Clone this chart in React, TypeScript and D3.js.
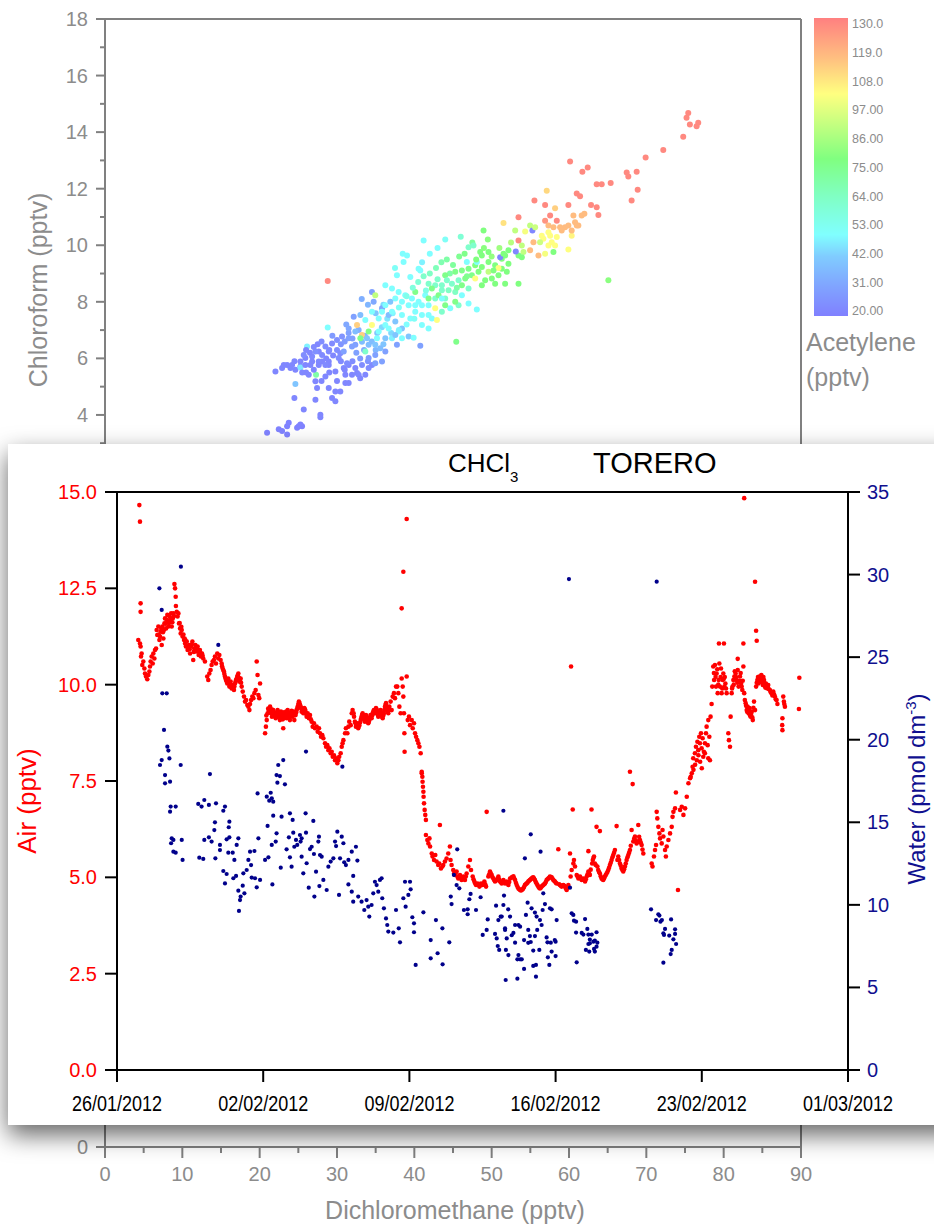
import React from "react";
import * as d3 from "d3";

// ---------------- Back chart (Chloroform vs Dichloromethane, coloured by Acetylene) -------------
const dcmTicks = [0, 10, 20, 30, 40, 50, 60, 70, 80, 90];
const dcmMinorTicks = [5, 15, 25, 35, 45, 55, 65, 75, 85];
const chloroTicks = [0, 2, 4, 6, 8, 10, 12, 14, 16, 18];
const chloroMinorTicks = [1, 3, 5, 7, 9, 11, 13, 15, 17];
const acetyleneTicks = [130, 119, 108, 97, 86, 75, 64, 53, 42, 31, 20];
const acetyleneStops = [20, 31, 42, 50, 64, 78, 90, 102, 115, 130];
const acetyleneColors = ["#8080ff", "#80a4ff", "#80ccff", "#80ffff", "#80ffc4", "#80ff80", "#c0ff80", "#ffff80", "#ffc080", "#ff8080"];

// [dichloromethane pptv, chloroform pptv, acetylene pptv]
const scatterPoints: [number, number, number][] = [
  // purple / blue low end
  [22.04, 5.54, 22], [22.9, 5.66, 22], [23.55, 5.77, 22], [24.19, 5.77, 22], [24.62, 5.6, 22], [25.27, 5.71, 23],
  [25.91, 6.01, 22], [26.78, 6.07, 23], [27.64, 6.24, 22], [28.5, 6.42, 24], [29.36, 6.53, 23], [30.0, 6.65, 25],
  [30.65, 6.77, 26], [28.07, 5.89, 22], [28.93, 5.77, 22], [29.79, 5.54, 22], [30.87, 5.66, 23], [31.51, 5.77, 22],
  [31.94, 5.42, 22], [32.59, 5.48, 22], [33.23, 5.77, 24], [33.66, 5.42, 22], [34.52, 5.77, 23], [26.35, 5.42, 22],
  [27.21, 5.19, 22], [27.42, 4.95, 22], [28.5, 5.36, 22], [28.93, 4.95, 22], [29.79, 4.83, 22], [30.43, 4.83, 22],
  [29.36, 4.6, 22], [29.79, 4.48, 22], [31.08, 5.13, 22], [31.51, 5.13, 22], [31.3, 5.83, 24], [27.64, 5.89, 23],
  [26.56, 5.77, 22], [25.7, 6.12, 24], [25.27, 5.89, 22], [28.93, 6.24, 23], [27.21, 6.24, 25], [30.22, 6.01, 24],
  [24.62, 5.09, 40], [24.49, 4.6, 22], [27.21, 4.54, 22], [25.7, 4.19, 22], [27.85, 4.01, 22], [27.85, 3.92, 22],
  [20.96, 3.37, 21], [22.47, 3.49, 21], [22.9, 3.43, 21], [23.55, 3.6, 21], [23.76, 3.72, 21], [23.55, 3.31, 21],
  [24.84, 3.55, 21], [25.05, 3.6, 21], [25.48, 3.6, 21], [25.27, 3.66, 21], [26.13, 6.42, 48], [27.29, 5.42, 70],
  [25.27, 5.68, 46], [26.78, 5.89, 22], [28.07, 6.12, 23], [30.43, 6.18, 24], [30.87, 6.24, 30], [31.94, 6.42, 30],
  [28.93, 5.89, 22], [28.5, 5.77, 23], [27.64, 5.77, 22], [25.91, 5.77, 22], [23.98, 5.66, 22], [23.12, 5.77, 22],
  [31.08, 5.42, 22], [32.8, 5.42, 23], [34.09, 5.66, 24], [32.37, 5.66, 22],
  [26.0, 6.3, 22], [26.5, 6.2, 22], [27.0, 6.4, 23], [27.5, 6.5, 22], [28.0, 6.6, 24], [28.6, 6.0, 22], [29.0, 6.3, 23],
  [29.5, 6.1, 22], [30.0, 6.3, 24], [30.5, 6.5, 26], [31.0, 6.6, 28], [31.5, 6.9, 30], [32.0, 6.7, 30], [32.5, 6.2, 30],
  [33.0, 6.0, 28], [33.5, 6.3, 32], [34.0, 5.9, 26], [29.0, 5.5, 22], [30.0, 5.2, 22], [31.0, 5.6, 22], [32.0, 5.9, 24],
  [33.0, 5.3, 22], [26.0, 5.5, 22], [27.0, 5.6, 22], [24.5, 5.9, 22], [25.5, 5.5, 22], [28.0, 5.2, 22], [30.5, 5.9, 23],
  [29.4, 6.8, 28], [31.2, 7.2, 32], [32.8, 7.0, 34], [33.6, 6.8, 36], [34.5, 6.6, 38], [35.2, 6.9, 40], [35.8, 7.1, 44],
  [36.5, 7.4, 46], [37.2, 7.6, 48], [36.0, 7.9, 44], [35.0, 7.6, 40], [34.0, 7.9, 36], [33.2, 8.1, 34],
  [37.0, 6.9, 44], [36.0, 6.5, 40], [35.0, 6.3, 36],
  // blue / light blue
  [34.52, 8.35, 30], [34.74, 8.0, 32], [34.95, 8.23, 90], [35.82, 7.77, 32], [36.68, 7.53, 38], [37.54, 7.3, 40],
  [38.4, 7.06, 40], [39.26, 6.77, 40], [37.75, 6.48, 30], [36.25, 6.24, 30], [34.95, 6.12, 30], [34.09, 6.01, 28],
  [33.23, 6.59, 38], [32.37, 6.95, 38], [31.51, 7.06, 32], [32.16, 7.47, 30], [33.02, 7.53, 38], [33.66, 7.36, 50],
  [34.52, 7.18, 102], [35.39, 6.95, 50], [36.25, 6.71, 40], [37.11, 6.71, 48], [37.97, 6.95, 50], [34.09, 6.48, 38],
  [34.95, 6.48, 40], [33.23, 6.83, 112], [32.59, 7.18, 112], [33.02, 6.71, 76], [34.09, 6.95, 76], [35.39, 7.41, 50],
  [36.68, 7.06, 50], [34.52, 7.65, 50], [33.66, 6.24, 62], [34.95, 5.83, 30], [35.82, 5.89, 30], [35.6, 6.36, 38],
  [37.54, 6.83, 40], [38.4, 6.71, 50], [36.25, 7.18, 50], [35.17, 6.71, 50], [32.37, 6.48, 30], [31.51, 6.71, 30],
  [33.88, 6.71, 40],
  // cyan band
  [41.84, 8.64, 62], [42.7, 8.59, 62], [43.56, 8.41, 62], [44.43, 8.41, 64], [45.29, 8.35, 64], [46.15, 8.23, 50],
  [47.01, 7.94, 50], [48.08, 7.73, 50], [45.72, 7.88, 62], [44.64, 7.77, 50], [43.56, 7.65, 62], [42.27, 7.41, 50],
  [40.98, 7.53, 50], [40.12, 7.65, 50], [39.26, 7.88, 50], [38.4, 8.0, 50], [37.54, 8.12, 50], [40.12, 8.35, 76],
  [41.41, 8.23, 50], [42.7, 8.12, 62], [43.99, 8.12, 62], [45.29, 8.0, 76], [41.84, 7.88, 50], [40.55, 8.0, 50],
  [39.69, 8.12, 50], [38.83, 8.23, 50], [37.97, 8.35, 50], [36.89, 8.0, 40], [36.25, 7.88, 50], [35.82, 7.65, 50],
  [37.11, 7.65, 50], [38.4, 7.53, 50], [39.48, 7.41, 50], [40.98, 7.18, 50], [41.84, 7.06, 50], [42.92, 7.36, 102],
  [36.25, 8.59, 50], [37.11, 8.47, 50], [37.75, 8.94, 50], [38.61, 9.41, 50], [39.05, 9.64, 50], [41.2, 10.17, 50],
  [39.48, 8.88, 50], [40.55, 9.17, 50], [40.77, 9.11, 50], [41.84, 8.12, 76], [42.7, 7.77, 102], [42.27, 8.47, 76],
  [43.13, 8.23, 76], [43.99, 7.88, 76], [40.12, 7.88, 50], [40.98, 7.88, 50], [41.84, 7.53, 50], [43.56, 8.12, 50],
  [45.42, 6.59, 76], [28.8, 8.74, 128], [28.8, 7.09, 50], [39.91, 6.73, 50], [40.77, 6.45, 30],
  [38.0, 7.8, 52], [39.0, 8.2, 55], [39.8, 8.5, 58], [40.5, 8.7, 60], [41.2, 8.9, 62], [42.0, 9.0, 64], [42.8, 9.2, 66],
  [43.5, 9.4, 68], [44.2, 9.5, 70], [45.0, 9.3, 72], [45.8, 9.6, 74], [46.5, 9.7, 76], [44.6, 9.0, 70], [43.0, 8.8, 62],
  [41.5, 8.4, 56], [40.0, 7.4, 52], [39.0, 7.2, 50], [38.0, 7.0, 48], [45.5, 8.5, 70], [46.8, 8.9, 74],
  [46.0, 10.3, 60], [44.0, 10.2, 52], [43.0, 9.9, 50], [42.0, 9.7, 50], [41.0, 9.4, 48], [38.5, 9.7, 50], [37.5, 9.2, 52],
  // green band
  [43.99, 8.94, 76], [45.29, 9.06, 76], [46.15, 9.11, 76], [47.01, 9.17, 76], [47.87, 9.29, 78], [48.73, 9.23, 78],
  [49.59, 9.41, 78], [50.45, 9.29, 78], [51.31, 9.52, 78], [51.74, 9.64, 78], [52.17, 9.35, 78], [51.96, 9.06, 78],
  [50.88, 8.94, 78], [50.02, 8.82, 78], [49.16, 8.76, 78], [48.3, 9.06, 78], [47.44, 8.94, 76], [46.58, 8.82, 76],
  [45.72, 8.76, 62], [44.86, 8.64, 62], [50.45, 8.64, 78], [51.74, 8.64, 78], [53.47, 8.64, 78], [51.31, 9.17, 78],
  [48.73, 9.64, 78], [46.79, 9.41, 50], [48.08, 9.41, 50], [51.1, 9.58, 22], [50.88, 9.2, 102], [47.87, 8.82, 102],
  [46.15, 8.59, 76], [47.01, 8.47, 62], [48.73, 8.59, 78], [49.59, 9.06, 90], [50.24, 9.11, 78], [44.21, 8.76, 62],
  [43.56, 8.59, 62], [48.0, 9.5, 78], [49.0, 9.9, 80], [50.0, 9.6, 82], [51.0, 9.9, 84], [52.5, 10.1, 88],
  [49.5, 10.2, 80], [47.5, 10.1, 72],
  // upper green / yellow
  [48.95, 10.52, 78], [47.01, 9.93, 62], [47.65, 9.99, 62], [48.52, 9.76, 78], [49.59, 9.76, 78], [51.53, 9.7, 78],
  [52.17, 9.82, 78], [53.9, 9.99, 90], [54.11, 9.76, 90], [53.47, 9.64, 78], [53.9, 9.58, 78],
  [51.53, 10.79, 108], [53.04, 10.52, 90], [54.33, 10.49, 100], [54.97, 10.7, 90], [55.27, 10.52, 22], [55.62, 10.64, 92],
  [53.47, 10.17, 128], [53.12, 9.78, 22], [57.99, 9.76, 78], [65.09, 8.76, 80],
  [55.4, 10.11, 116], [54.97, 9.82, 116], [56.05, 9.64, 116],
  [57.34, 10.46, 102], [58.42, 10.29, 102], [56.48, 10.34, 102], [56.69, 10.23, 102], [56.26, 10.11, 92],
  [57.77, 10.11, 102], [57.34, 9.99, 102], [58.2, 9.99, 102], [59.92, 9.85, 102], [56.91, 9.7, 100], [57.56, 10.34, 102],
  [60.35, 10.34, 104],
  // orange
  [57.12, 11.93, 110], [58.2, 11.31, 112], [60.57, 11.05, 116], [61.64, 11.05, 116], [61.99, 11.11, 116],
  [60.78, 10.81, 116], [61.21, 10.7, 116], [59.92, 10.7, 116], [59.49, 10.64, 116], [58.85, 10.64, 116],
  [60.35, 10.52, 116], [59.06, 10.52, 116], [61.0, 10.7, 116], [57.34, 10.7, 116], [57.99, 10.64, 116],
  // red
  [57.56, 11.05, 128], [56.91, 10.87, 125], [58.42, 10.87, 128],
  [75.42, 14.68, 128], [75.2, 14.51, 128], [75.63, 14.27, 128], [76.71, 14.33, 128], [76.5, 14.21, 128],
  [74.77, 13.84, 128], [72.19, 13.37, 128], [69.91, 13.1, 128], [60.14, 12.96, 128], [62.42, 12.75, 128],
  [61.73, 12.6, 128], [67.46, 12.57, 128], [67.67, 12.43, 128], [68.75, 12.6, 128], [63.58, 12.16, 128],
  [64.23, 12.16, 128], [65.39, 12.2, 128], [68.88, 11.96, 128], [68.1, 11.58, 128], [61.0, 11.83, 128],
  [61.43, 11.73, 128], [59.92, 11.42, 128], [56.91, 11.42, 128], [55.53, 11.58, 128], [62.85, 11.42, 128],
  [63.58, 11.34, 128], [63.8, 11.07, 128], [53.47, 10.99, 128],
];

// ---------------- Front chart (CHCl3, TORERO) -------------
const startDate = "2012-01-26";
const endDate = "2012-03-01";
const dateTicks = ["2012-01-26", "2012-02-02", "2012-02-09", "2012-02-16", "2012-02-23", "2012-03-01"];
const airTicks = [0, 2.5, 5, 7.5, 10, 12.5, 15];
const waterTicks = [0, 5, 10, 15, 20, 25, 30, 35];

// [days since 26/01/2012, pptv]
const airSeries: [number, number][] = [
  [1.07, 14.66], [1.10, 14.23], [1.13, 12.11], [1.13, 11.89], [1.02, 11.16], [1.10, 11.07], [1.13, 10.99], [1.18, 10.81],
  [1.15, 10.73], [1.21, 10.51], [1.26, 10.60], [1.31, 10.42], [1.34, 10.29], [1.39, 10.21], [1.45, 10.14], [1.50, 10.25],
  [1.55, 10.34], [1.58, 10.47], [1.61, 10.60], [1.66, 10.73], [1.71, 10.55], [1.74, 10.81], [1.79, 10.68], [1.82, 10.90],
  [1.87, 10.94], [1.90, 11.42], [1.93, 11.29], [1.98, 11.51], [2.03, 11.16], [2.06, 11.25], [2.09, 11.38], [2.14, 11.03],
  [2.17, 11.51], [2.22, 11.20], [2.27, 11.59], [2.30, 11.72], [2.35, 11.46], [2.38, 11.68], [2.41, 11.81], [2.46, 11.51],
  [2.51, 11.77], [2.54, 11.64], [2.59, 11.85], [2.62, 11.51], [2.67, 11.72], [2.70, 11.85], [2.75, 12.61], [2.78, 12.50],
  [2.81, 12.28], [2.82, 12.04], [2.86, 11.89], [2.90, 11.77], [2.94, 11.85], [2.97, 11.59], [3.02, 11.46], [3.05, 11.33],
  [3.10, 11.42], [3.14, 11.25], [3.21, 11.16], [3.26, 11.07], [3.30, 10.99], [3.34, 11.12], [3.38, 10.90], [3.45, 11.03],
  [3.50, 10.81], [3.54, 10.99], [3.61, 11.12], [3.65, 10.64], [3.70, 10.94], [3.75, 11.03], [3.81, 10.86], [3.86, 10.99],
  [3.91, 10.77], [3.97, 10.90], [4.02, 10.73], [4.07, 10.81], [4.13, 10.68], [4.21, 10.60], [4.32, 10.21], [4.37, 10.12],
  [4.42, 10.29], [4.48, 10.38], [4.53, 10.51], [4.58, 10.60], [4.64, 10.64], [4.69, 10.73], [4.74, 10.55], [4.80, 10.81],
  [4.85, 10.68], [4.90, 10.77], [4.96, 10.64], [5.01, 10.55], [5.06, 10.42], [5.12, 10.34], [5.17, 10.21], [5.22, 10.12],
  [5.28, 10.03], [5.33, 10.16], [5.38, 9.95], [5.44, 10.08], [5.49, 9.90], [5.54, 9.99], [5.60, 9.86], [5.65, 10.03],
  [5.70, 10.12], [5.76, 10.21], [5.81, 10.29], [5.86, 10.08], [5.92, 10.16], [5.97, 9.95], [6.02, 9.82], [6.08, 9.69],
  [6.13, 9.56], [6.18, 9.60], [6.24, 9.47], [6.29, 9.43], [6.34, 9.34], [6.37, 9.50], [6.42, 9.60], [6.48, 9.69],
  [6.53, 9.65], [6.58, 9.78], [6.64, 9.86], [6.69, 10.60], [6.73, 10.25], [6.77, 9.73], [6.81, 9.65], [6.85, 10.03],
  [7.09, 8.74], [7.13, 8.91], [7.17, 9.08], [7.21, 9.26], [7.26, 9.34], [7.33, 9.43], [7.37, 9.26], [7.42, 9.17],
  [7.48, 9.34], [7.53, 9.21], [7.60, 9.13], [7.64, 9.26], [7.69, 9.34], [7.76, 9.17], [7.80, 9.08], [7.85, 9.30],
  [7.92, 9.21], [7.96, 8.87], [8.01, 9.17], [8.08, 9.26], [8.12, 9.13], [8.17, 9.34], [8.23, 9.21], [8.28, 9.08],
  [8.33, 9.26], [8.39, 9.17], [8.44, 9.30], [8.49, 9.08], [8.55, 9.21], [8.60, 9.34], [8.65, 9.43], [8.71, 9.56],
  [8.76, 9.47], [8.81, 9.39], [8.87, 9.34], [8.92, 9.26], [8.97, 9.39], [9.03, 9.30], [9.08, 9.17], [9.13, 9.26],
  [9.19, 9.13], [9.24, 9.21], [9.32, 9.04], [9.37, 8.91], [9.43, 9.00], [9.48, 8.87], [9.56, 8.91], [9.61, 8.78],
  [9.67, 8.87], [9.72, 8.74], [9.77, 8.65], [9.83, 8.69], [9.88, 8.61], [9.96, 8.48], [10.01, 8.39], [10.07, 8.43],
  [10.12, 8.30], [10.17, 8.35], [10.23, 8.22], [10.28, 8.26], [10.33, 8.13], [10.39, 8.17], [10.44, 8.04], [10.49, 8.09],
  [10.55, 7.96], [10.60, 8.04], [10.64, 8.13], [10.71, 8.22], [10.76, 8.39], [10.80, 8.48], [10.84, 8.56], [10.92, 8.74],
  [10.96, 8.87], [11.03, 8.74], [11.08, 8.91], [11.12, 9.04], [11.19, 8.95], [11.24, 9.26], [11.28, 9.34], [11.35, 9.17],
  [11.39, 9.04], [11.44, 8.91], [11.51, 9.00], [11.55, 8.87], [11.60, 8.95], [11.67, 9.08], [11.71, 9.17], [11.76, 9.26],
  [11.83, 9.13], [11.87, 9.04], [11.92, 9.21], [11.99, 9.13], [12.03, 9.00], [12.08, 9.08], [12.14, 9.21], [12.19, 9.13],
  [12.24, 9.26], [12.30, 9.34], [12.35, 9.26], [12.40, 9.39], [12.46, 9.30], [12.51, 9.17], [12.56, 9.26], [12.62, 9.34],
  [12.67, 9.21], [12.72, 9.13], [12.78, 9.26], [12.83, 9.43], [12.88, 9.52], [12.94, 9.34], [12.99, 9.26], [13.04, 9.43],
  [13.10, 9.56], [13.15, 9.34], [13.20, 9.69], [13.26, 9.78], [13.31, 9.65], [13.36, 9.95], [13.42, 9.95], [13.47, 9.78],
  [13.52, 9.43], [13.58, 9.26], [13.63, 10.16], [13.63, 11.98], [13.68, 9.95], [13.71, 12.93], [13.71, 9.69], [13.74, 9.26],
  [13.76, 8.74], [13.77, 8.26], [13.87, 14.30], [13.87, 10.21], [13.92, 9.08], [13.98, 9.17], [14.03, 8.95], [14.11, 9.08],
  [14.16, 8.87], [14.22, 9.00], [14.27, 8.74], [14.32, 8.65], [14.38, 8.56], [14.43, 8.48], [14.48, 8.39], [14.54, 8.22],
  [14.59, 7.70], [14.62, 7.61],
  [2.00, 11.30], [2.12, 11.45], [2.20, 11.36], [2.25, 11.42], [2.33, 11.58], [2.44, 11.66], [2.49, 11.60], [2.57, 11.72],
  [2.65, 11.62], [2.73, 11.78], [3.00, 11.60], [3.08, 11.50], [3.18, 11.30], [3.24, 11.20], [3.28, 11.15], [3.36, 11.00],
  [3.42, 10.95], [3.48, 10.92], [3.58, 11.05], [3.68, 10.85], [3.78, 10.95], [3.88, 10.90], [3.94, 10.86], [4.00, 10.82],
  [4.10, 10.75], [5.03, 10.48], [5.09, 10.38], [5.14, 10.28], [5.20, 10.16], [5.25, 10.08], [5.30, 10.10], [5.36, 10.04],
  [5.41, 10.00], [5.46, 9.98], [5.52, 9.94], [5.57, 9.92], [5.62, 9.95], [5.68, 10.08], [5.73, 10.16], [5.78, 10.24],
  [5.84, 10.18], [5.89, 10.12], [5.94, 10.05],
  [7.15, 9.20], [7.24, 9.38], [7.30, 9.30], [7.40, 9.36], [7.45, 9.24], [7.51, 9.30], [7.57, 9.22], [7.62, 9.16],
  [7.67, 9.20], [7.72, 9.28], [7.78, 9.25], [7.83, 9.14], [7.89, 9.26], [7.94, 9.10], [7.99, 9.28], [8.04, 9.20],
  [8.10, 9.30], [8.15, 9.22], [8.20, 9.28], [8.26, 9.16], [8.31, 9.20], [8.36, 9.32], [8.41, 9.24], [8.47, 9.20],
  [8.52, 9.26], [8.58, 9.28], [8.63, 9.38], [8.68, 9.50], [8.74, 9.52], [8.79, 9.44], [8.84, 9.30], [8.90, 9.32],
  [8.95, 9.30], [9.00, 9.36], [9.06, 9.24], [9.11, 9.20], [9.16, 9.20], [9.21, 9.16], [9.28, 9.10],
  [11.33, 9.26], [11.42, 9.00], [11.47, 8.95], [11.53, 8.93], [11.58, 8.92], [11.64, 9.02], [11.69, 9.12], [11.74, 9.22],
  [11.80, 9.20], [11.85, 9.08], [11.90, 9.15], [11.95, 9.18], [12.01, 9.06], [12.06, 9.04], [12.11, 9.14], [12.17, 9.18],
  [12.22, 9.20], [12.27, 9.30], [12.32, 9.30], [12.38, 9.32], [12.43, 9.36], [12.49, 9.22], [12.54, 9.20], [12.59, 9.30],
  [12.64, 9.28], [12.70, 9.16], [12.75, 9.20], [12.80, 9.34], [12.86, 9.48], [12.91, 9.44], [12.97, 9.30], [13.02, 9.34],
  [14.59, 7.74], [14.63, 7.48], [14.65, 7.35], [14.67, 7.22], [14.68, 7.09], [14.70, 6.92], [14.73, 6.75], [14.76, 6.62],
  [14.79, 6.49], [14.79, 6.10], [14.86, 5.97], [14.91, 5.88], [14.99, 5.80], [14.96, 6.01], [15.07, 5.62], [15.11, 5.54],
  [15.18, 5.45], [15.24, 5.58], [15.30, 5.41], [15.38, 5.32], [15.43, 5.36], [15.46, 6.36], [15.51, 5.23], [15.58, 5.28],
  [15.62, 5.32], [15.70, 5.41], [15.78, 5.49], [15.86, 5.62], [15.94, 5.80], [15.97, 5.45], [16.02, 5.32], [16.10, 5.19],
  [16.18, 5.06], [16.26, 5.15], [16.34, 4.97], [16.42, 5.06], [16.50, 4.93], [16.58, 5.02], [16.66, 4.93], [16.74, 5.10],
  [16.82, 5.28], [16.90, 5.45], [16.95, 5.19], [17.03, 5.02], [17.11, 4.89], [17.19, 4.80], [17.27, 4.84], [17.35, 4.76],
  [17.43, 4.84], [17.51, 4.80], [17.59, 4.89], [17.67, 4.76], [17.70, 6.70], [17.78, 5.02], [17.86, 5.15], [17.94, 5.06],
  [18.02, 4.97], [18.10, 4.89], [18.18, 4.93], [18.26, 5.02], [18.34, 4.89], [18.42, 4.84], [18.50, 4.93], [18.58, 4.84],
  [18.66, 4.89], [18.74, 4.80],
  [16.14, 5.10], [16.22, 5.12], [16.30, 5.02], [16.38, 4.99], [16.46, 4.98], [16.54, 4.95], [16.62, 4.97], [16.70, 5.02],
  [17.07, 4.95], [17.15, 4.84], [17.23, 4.82], [17.31, 4.80], [17.39, 4.79], [17.47, 4.82], [17.55, 4.84], [17.63, 4.82],
  [17.82, 5.08], [17.90, 5.10], [17.98, 5.00], [18.06, 4.93], [18.14, 4.91], [18.22, 4.97], [18.30, 4.95], [18.38, 4.87],
  [18.46, 4.88], [18.54, 4.88], [18.62, 4.87], [18.70, 4.84], [18.78, 4.88], [18.90, 5.00], [19.02, 4.97], [19.10, 4.86],
  [19.18, 4.75], [19.26, 4.69], [19.34, 4.66], [19.42, 4.69], [19.49, 4.75], [19.57, 4.82], [19.65, 4.86], [19.73, 4.91],
  [19.81, 4.95], [19.89, 4.99], [19.97, 4.97], [20.05, 4.88], [20.13, 4.80], [20.21, 4.73], [20.29, 4.73], [20.37, 4.78],
  [20.45, 4.82], [20.53, 4.88], [20.61, 4.95], [20.69, 4.99], [20.77, 5.01], [20.85, 4.97], [20.93, 4.91], [21.01, 4.86],
  [21.17, 4.82], [21.25, 4.78], [21.33, 4.78], [21.41, 4.78], [21.49, 4.71], [21.57, 4.73],
  [18.82, 4.97], [18.98, 5.03], [19.06, 4.93], [19.14, 4.80], [19.22, 4.71], [19.30, 4.67], [19.38, 4.67], [19.45, 4.71],
  [19.53, 4.80], [19.61, 4.84], [19.69, 4.89], [19.77, 4.93], [19.85, 4.97], [19.93, 5.00], [20.01, 4.93], [20.09, 4.84],
  [20.17, 4.76], [20.25, 4.71], [20.33, 4.76], [20.41, 4.80], [20.49, 4.84], [20.57, 4.93], [20.65, 4.97], [20.73, 5.02],
  [20.81, 5.00], [20.89, 4.93], [20.97, 4.89], [21.05, 4.84], [21.13, 5.73], [21.21, 4.80], [21.29, 4.76], [21.37, 4.80],
  [21.45, 4.76], [21.53, 4.67], [21.61, 4.80], [21.69, 5.62], [21.72, 5.02], [21.77, 5.19], [21.82, 6.76], [21.85, 5.36],
  [21.88, 5.45], [21.93, 5.28], [22.01, 5.06], [22.09, 4.97], [22.17, 5.02], [22.25, 4.93], [22.33, 4.97], [22.41, 4.89],
  [22.49, 5.02], [22.57, 5.15], [22.57, 5.68], [22.64, 5.06], [22.72, 6.76], [22.78, 5.45], [22.84, 5.54], [22.88, 5.36],
  [22.96, 6.31], [23.00, 5.28], [23.04, 5.19], [23.12, 6.20], [23.12, 5.10], [23.20, 4.97], [23.28, 4.93], [23.36, 5.02],
  [23.44, 5.10], [23.52, 5.19], [23.60, 5.32], [23.68, 5.45], [23.76, 5.58], [23.84, 5.71], [23.92, 6.33], [23.96, 5.45],
  [24.00, 5.54], [24.08, 5.36], [24.16, 5.23], [24.24, 5.15], [24.32, 5.28], [24.40, 5.45], [24.48, 5.58], [24.56, 7.74],
  [24.56, 5.71], [24.64, 6.23], [24.69, 7.42], [24.72, 5.93], [24.80, 6.06], [24.88, 5.88], [24.96, 6.36], [25.04, 5.97],
  [25.12, 5.84], [25.20, 5.62], [25.60, 5.36], [25.64, 5.28], [25.71, 5.54], [25.76, 5.71], [25.81, 5.84], [25.84, 6.70],
  [25.87, 6.53], [25.92, 6.31], [25.97, 6.14], [26.00, 6.01], [26.08, 5.88], [26.12, 6.23], [26.16, 6.06], [26.24, 5.71],
  [26.28, 5.54], [26.32, 5.80], [26.40, 5.97], [26.48, 6.14], [26.56, 6.31], [26.60, 6.57], [26.64, 6.70], [26.72, 6.79],
  [26.76, 7.20], [26.86, 4.67], [26.96, 6.75], [27.04, 6.83], [27.12, 6.62], [27.20, 6.79], [27.28, 7.09], [27.36, 7.44],
  [27.44, 7.57], [27.52, 7.70], [27.60, 7.79], [27.68, 7.92], [27.76, 8.04], [27.84, 8.17], [27.92, 8.00], [28.00, 7.83],
  [28.07, 8.13], [28.15, 8.22], [28.31, 8.09], [28.39, 8.04],
  [22.05, 5.02], [22.13, 4.99], [22.21, 4.97], [22.29, 4.95], [22.37, 4.93], [22.45, 4.95], [22.53, 5.08], [22.61, 5.10],
  [22.68, 5.20], [22.75, 5.36], [22.81, 5.50], [22.92, 5.32], [23.08, 5.14], [23.16, 5.03], [23.24, 4.95], [23.32, 4.97],
  [23.40, 5.06], [23.48, 5.14], [23.56, 5.25], [23.64, 5.38], [23.72, 5.52], [23.80, 5.64], [24.04, 5.45], [24.12, 5.30],
  [24.20, 5.19], [24.28, 5.21], [24.36, 5.36], [24.44, 5.52], [24.52, 5.64], [24.60, 5.82], [24.76, 6.00], [24.84, 5.96],
  [24.92, 5.92], [25.00, 6.05], [25.08, 5.90], [25.16, 5.72],
  [30.03, 14.84], [30.55, 12.67], [21.74, 10.47], [30.60, 11.40], [30.63, 11.14], [28.82, 11.07], [29.06, 11.07],
  [29.99, 11.07], [29.72, 10.67], [27.47, 7.61], [27.56, 7.87], [27.59, 8.09], [27.67, 8.22], [27.72, 8.39], [27.79, 8.52],
  [27.83, 8.30], [27.88, 8.65], [27.91, 8.48], [27.96, 8.74], [27.99, 8.35], [28.04, 8.61], [28.10, 8.26], [28.15, 8.48],
  [28.20, 8.74], [28.23, 8.91], [28.28, 8.43], [28.31, 9.08], [28.36, 8.65], [28.42, 9.17], [28.47, 9.50], [28.50, 9.95],
  [28.55, 10.47], [28.59, 10.12], [28.63, 10.51], [28.68, 9.95], [28.71, 10.29], [28.76, 9.78], [28.81, 10.12], [28.84, 10.55],
  [28.87, 9.95], [28.92, 10.42], [28.95, 9.78], [29.00, 10.12], [29.03, 10.29], [29.08, 9.95], [29.13, 10.03], [29.19, 9.78],
  [29.27, 8.74], [29.30, 8.56], [29.35, 8.39], [29.38, 9.17], [29.43, 9.78], [29.47, 9.95], [29.51, 10.12], [29.56, 10.21],
  [29.62, 10.29], [29.66, 10.12], [29.72, 10.38], [29.76, 9.95], [29.83, 10.21], [29.88, 10.03], [29.94, 9.86], [29.99, 10.47],
  [30.03, 9.78], [30.10, 9.52], [30.15, 9.34], [30.19, 9.43], [30.24, 9.26], [30.28, 9.39], [30.34, 9.17], [30.39, 9.30],
  [30.44, 9.08], [30.50, 9.56], [30.55, 9.34], [30.60, 9.95], [30.66, 10.12], [30.71, 10.03], [30.76, 10.21], [30.82, 10.08],
  [30.87, 10.16], [30.92, 9.99], [30.98, 10.12], [31.03, 9.95], [31.07, 10.03], [31.14, 9.90], [31.18, 9.99], [31.26, 9.86],
  [31.34, 9.78], [31.42, 9.82], [31.50, 9.69], [31.58, 9.60], [31.90, 9.69], [31.93, 9.56], [31.98, 9.43], [31.86, 9.13],
  [31.85, 8.95], [31.86, 8.82], [32.67, 10.18], [32.65, 9.37],
  [28.58, 10.30], [28.66, 10.20], [28.74, 10.40], [28.79, 10.00], [28.90, 10.20], [28.98, 9.90], [29.05, 10.15],
  [29.10, 10.20], [29.16, 9.90], [29.45, 9.90], [29.53, 10.00], [29.58, 10.35], [29.64, 10.20], [29.70, 10.05],
  [29.79, 10.10], [29.86, 10.30], [29.91, 9.95], [29.96, 10.10], [30.06, 9.60], [30.12, 9.45], [30.17, 9.30],
  [30.22, 9.36], [30.26, 9.30], [30.31, 9.20], [30.36, 9.24], [30.42, 9.15], [30.47, 9.40], [30.63, 10.05],
  [30.69, 10.20], [30.74, 10.10], [30.79, 10.15], [30.85, 10.25], [30.90, 10.05], [30.95, 10.20], [31.00, 10.04],
  [31.05, 9.92], [31.10, 9.96], [31.16, 9.94], [31.22, 9.88], [31.30, 9.80], [31.38, 9.72], [31.46, 9.75],
  [31.54, 9.62], [31.62, 9.50], [31.95, 9.50],
];

// [days since 26/01/2012, pmol dm-3]
const waterSeries: [number, number][] = [
  [3.06, 30.48], [2.03, 29.17], [2.14, 27.86], [4.85, 25.74], [2.17, 22.81], [2.38, 22.81], [2.25, 20.59], [2.41, 19.58],
  [2.46, 19.34], [2.51, 18.87], [3.05, 18.47], [7.96, 18.77], [9.05, 19.28], [10.79, 18.37],
  [2.06, 18.47], [2.14, 18.77], [2.30, 17.86], [2.30, 17.36], [2.54, 17.46], [4.45, 17.92], [2.57, 15.95], [2.81, 15.95],
  [2.54, 15.64], [2.62, 14.03], [2.70, 13.93], [2.59, 13.73], [3.10, 13.93], [2.70, 13.22], [2.81, 13.16], [3.14, 12.72],
  [3.89, 16.11], [4.18, 16.35], [4.05, 15.95], [4.40, 16.05], [4.74, 16.15], [5.17, 15.95], [5.09, 15.70], [4.18, 13.93],
  [4.40, 14.09], [4.53, 13.83], [3.94, 12.86], [4.13, 12.78], [4.71, 12.82], [4.66, 14.53], [4.69, 15.00], [4.93, 13.63],
  [4.93, 13.32], [5.25, 13.97], [5.38, 14.09], [5.38, 15.04], [5.35, 14.70], [5.33, 13.16], [5.54, 13.16], [5.73, 13.63],
  [5.81, 14.03], [5.62, 12.72], [5.09, 12.05], [5.25, 11.87], [5.17, 11.30], [5.57, 11.61], [5.70, 11.75], [5.81, 10.86],
  [5.89, 10.29], [5.92, 10.50], [6.02, 11.16], [5.84, 9.63], [6.10, 10.70], [6.05, 11.91], [6.21, 12.11], [6.29, 12.72],
  [6.37, 13.22], [6.58, 13.26], [6.42, 12.41], [6.45, 11.65], [6.61, 11.61], [6.69, 11.06], [6.73, 16.75], [6.85, 11.51],
  [6.77, 14.03], [7.09, 12.72], [7.25, 12.88], [7.17, 16.55], [7.36, 16.79], [7.41, 16.45], [7.48, 16.25], [7.29, 16.31],
  [7.21, 14.78], [7.41, 13.63], [7.60, 13.83], [7.64, 14.33], [7.48, 15.40], [7.44, 11.24], [7.64, 17.86], [7.72, 18.47],
  [7.80, 17.80], [7.68, 17.40], [8.04, 17.30], [7.84, 12.25], [7.88, 15.34], [8.12, 13.36], [8.23, 14.09], [8.28, 15.54],
  [8.41, 15.14], [8.44, 14.37], [8.28, 12.88], [8.36, 12.31], [8.49, 13.52], [8.57, 13.93], [8.63, 13.63], [8.76, 14.23],
  [8.79, 13.83], [8.84, 14.03], [8.84, 12.92], [8.92, 11.91], [9.03, 15.54], [9.05, 14.37], [9.08, 12.52], [9.18, 11.04],
  [9.24, 13.38], [9.32, 13.52], [9.40, 15.08], [9.43, 13.08], [9.45, 10.50], [9.53, 12.01], [9.64, 13.83], [9.67, 14.13],
  [9.72, 13.02], [9.80, 12.92], [9.69, 11.14], [9.88, 11.51], [10.04, 10.90], [10.12, 12.31], [10.23, 12.62], [10.36, 12.82],
  [10.44, 13.83], [10.49, 13.56], [10.55, 14.43], [10.68, 12.82], [10.76, 14.13], [10.84, 13.73], [10.88, 12.58], [10.96, 12.41],
  [11.08, 12.72], [11.24, 13.22], [11.31, 11.75], [11.44, 13.52], [11.51, 12.68], [10.63, 10.60], [11.08, 11.24], [11.24, 10.80],
  [11.31, 10.19], [11.55, 10.50], [11.71, 10.19], [11.84, 9.69], [11.95, 10.29], [12.03, 9.89], [12.08, 9.29], [12.19, 9.99],
  [12.27, 10.70], [12.35, 11.40], [12.43, 11.20], [12.51, 10.80], [12.59, 11.51], [12.67, 11.61], [12.70, 10.40], [12.78, 9.79],
  [12.88, 9.18], [12.94, 8.78], [12.99, 8.38], [13.23, 8.32], [13.36, 9.69], [13.49, 8.58], [13.55, 7.73], [13.71, 10.40],
  [13.79, 11.40], [13.82, 9.89], [13.95, 10.60], [14.03, 11.40], [14.06, 10.94], [14.14, 9.25], [14.22, 8.88], [14.22, 8.34],
  [14.30, 6.36], [14.67, 9.55], [15.02, 7.87], [15.02, 6.76], [15.27, 9.08], [15.35, 7.07], [15.58, 8.58], [15.59, 6.40],
  [15.91, 7.73], [15.98, 10.50], [16.02, 10.05], [16.13, 11.81], [16.26, 11.20], [16.29, 13.36], [16.39, 11.00], [16.61, 9.69],
  [16.79, 9.73], [16.79, 9.43], [16.87, 10.34], [16.93, 10.66], [17.19, 9.69], [17.41, 10.46], [17.51, 8.18], [17.70, 8.48],
  [17.75, 9.12], [18.10, 8.24], [18.15, 9.95], [18.18, 7.97], [18.23, 7.51], [18.30, 7.27], [18.26, 9.08], [18.37, 9.29],
  [18.50, 15.70], [18.61, 5.45], [18.58, 8.58], [18.66, 7.97], [18.74, 6.96],
  [19.81, 14.27], [20.28, 13.22], [19.53, 12.82], [21.69, 11.04], [18.53, 10.56], [18.50, 9.99], [18.73, 9.73], [18.42, 9.29],
  [18.82, 9.29], [18.58, 8.48], [19.06, 8.78], [19.22, 8.78], [19.30, 8.68], [18.98, 8.30], [18.90, 8.16], [19.06, 7.71],
  [18.62, 7.27], [19.22, 6.96], [19.30, 6.70], [19.49, 6.12], [19.17, 5.53], [19.66, 10.13], [19.58, 9.39], [19.85, 9.79],
  [20.09, 9.29], [20.01, 9.53], [20.25, 9.08], [20.38, 9.69], [20.41, 10.70], [20.49, 10.05], [20.73, 9.79], [20.81, 9.73],
  [21.05, 9.08], [19.69, 8.48], [19.77, 8.11], [20.01, 8.11], [20.12, 8.48], [20.33, 8.78], [19.49, 7.87], [19.69, 7.70],
  [19.81, 7.75], [19.93, 7.23], [20.22, 7.27], [20.57, 8.03], [20.61, 7.73], [20.77, 7.71], [20.96, 7.87], [21.00, 7.77],
  [20.81, 7.17], [20.63, 6.82], [20.70, 6.36], [21.00, 6.90], [19.93, 6.30], [20.06, 6.36], [20.06, 5.65], [19.38, 6.70],
  [19.17, 6.70], [21.77, 9.49], [21.85, 9.39], [21.88, 9.04], [21.98, 8.98], [22.41, 9.14], [21.98, 8.32], [22.25, 8.30],
  [22.33, 8.20], [22.52, 8.54], [22.57, 8.20], [22.73, 8.20], [22.96, 8.34], [22.64, 7.90], [22.81, 7.77], [22.88, 7.83],
  [23.00, 7.71], [22.57, 7.63], [22.64, 7.67], [22.96, 7.47], [22.45, 7.27], [22.61, 7.17], [22.84, 7.33], [22.88, 7.17],
  [22.01, 6.52], [25.57, 9.73], [25.92, 9.43], [25.97, 9.35], [25.81, 9.08], [26.09, 9.08], [26.02, 8.98], [26.53, 9.12],
  [26.24, 8.54], [26.16, 8.28], [26.19, 8.18], [26.44, 8.14], [26.72, 8.52], [26.72, 8.24], [26.64, 7.91], [26.77, 7.63],
  [26.56, 7.27], [26.51, 7.02], [26.16, 6.50], [21.64, 29.73], [25.84, 29.57],
];

const SANS = "'Liberation Sans', Arial, Helvetica, sans-serif";
const GREY_AXIS = "#808080";
const GREY_TEXT = "#8c8c8c";
const AIR_RED = "#ff0000";
const WATER_BLUE = "#00008b";
const WATER_TEXT = "#10108f";

export default function App() {
  // back chart scales
  const xB = d3.scaleLinear().domain([0, 90]).range([105, 801]);
  const yB = d3.scaleLinear().domain([0, 2, 18]).range([1147, 471.5, 19]);
  const colorScale = d3
    .scaleLinear<string>()
    .domain(acetyleneStops)
    .range(acetyleneColors)
    .interpolate(d3.interpolateRgb)
    .clamp(true);
  const barScale = d3.scaleLinear().domain([20, 130]).range([316, 18]);
  const barLabelScale = d3.scaleLinear().domain([20, 130]).range([311, 24]);
  const fmtBar = d3.format(".4r");

  // front chart scales
  const parse = d3.timeParse("%Y-%m-%d");
  const t0 = parse(startDate) as Date;
  const t1 = parse(endDate) as Date;
  const xT = d3.scaleTime().domain([t0, t1]).range([117, 848]);
  const yAir = d3.scaleLinear().domain([0, 15]).range([1070, 492]);
  const yWater = d3.scaleLinear().domain([0, 35]).range([1070, 492]);
  const dayToDate = (d: number) => new Date(t0.getTime() + d * 864e5);
  const fmtDate = d3.timeFormat("%d/%m/%Y");
  const fmtAir = d3.format(".1f");

  const barTop = barScale(130);
  const barBottom = barScale(20);

  return (
    <svg
      width={934}
      height={1226}
      viewBox="0 0 934 1226"
      style={{ position: "absolute", left: 0, top: 0, display: "block" }}
    >
      <defs>
        <linearGradient id="acetyleneGrad" x1="0" y1="1" x2="0" y2="0">
          {acetyleneStops.map((v, i) => (
            <stop key={i} offset={(v - 20) / 110} stopColor={acetyleneColors[i]} />
          ))}
        </linearGradient>
        <filter id="cardShadow" x="-5%" y="-10%" width="115%" height="125%">
          <feDropShadow dx="0" dy="10" stdDeviation="12" floodColor="#000" floodOpacity="0.6" />
        </filter>
      </defs>
      <rect x={0} y={0} width={934} height={1226} fill="#fff" />

      {/* ---------- back chart ---------- */}
      <g>
        {scatterPoints.map((p, i) => (
          <circle key={i} cx={xB(p[0])} cy={yB(p[1])} r={3} fill={colorScale(p[2])} />
        ))}
        <g stroke={GREY_AXIS} strokeWidth={2} fill="none">
          <line x1={xB(0)} y1={yB(18)} x2={xB(0)} y2={yB(0)} />
          <line x1={xB(0)} y1={yB(18)} x2={xB(90)} y2={yB(18)} />
          <line x1={xB(90)} y1={yB(18)} x2={xB(90)} y2={yB(0)} />
          <line x1={xB(0)} y1={yB(0)} x2={xB(90)} y2={yB(0)} />
          {chloroTicks.map((t) => (
            <line key={"cy" + t} x1={xB(0) - 9} x2={xB(0)} y1={yB(t)} y2={yB(t)} />
          ))}
          {chloroMinorTicks.map((t) => (
            <line key={"cym" + t} x1={xB(0) - 5} x2={xB(0)} y1={yB(t)} y2={yB(t)} />
          ))}
          {dcmTicks.map((t) => (
            <line key={"dx" + t} x1={xB(t)} x2={xB(t)} y1={yB(0)} y2={yB(0) + 11} />
          ))}
          {dcmMinorTicks.map((t) => (
            <line key={"dxm" + t} x1={xB(t)} x2={xB(t)} y1={yB(0)} y2={yB(0) + 6} />
          ))}
        </g>
        <g fill={GREY_TEXT} fontFamily={SANS} fontSize={20}>
          {chloroTicks.map((t) => (
            <text key={"cyl" + t} x={xB(0) - 17} y={yB(t)} dy="0.35em" textAnchor="end">
              {t}
            </text>
          ))}
          {dcmTicks.map((t) => (
            <text key={"dxl" + t} x={xB(t)} y={yB(0) + 34} textAnchor="middle">
              {t}
            </text>
          ))}
        </g>
        <text
          transform="translate(47,290) rotate(-90)"
          textAnchor="middle"
          fill={GREY_TEXT}
          fontFamily={SANS}
          fontSize={25}
        >
          Chloroform (pptv)
        </text>
        <text x={455} y={1219} textAnchor="middle" fill={GREY_TEXT} fontFamily={SANS} fontSize={25}>
          Dichloromethane (pptv)
        </text>
        {/* colour bar */}
        <rect x={814} y={barTop} width={34} height={barBottom - barTop} fill="url(#acetyleneGrad)" />
        <g fill={GREY_TEXT} fontFamily={SANS} fontSize={12.5}>
          {acetyleneTicks.map((t) => (
            <text key={"ac" + t} x={852} y={barLabelScale(t)} dy="0.35em">
              {fmtBar(t)}
            </text>
          ))}
        </g>
        <text x={806} y={351} fill={GREY_TEXT} fontFamily={SANS} fontSize={25}>
          Acetylene
        </text>
        <text x={806} y={386} fill={GREY_TEXT} fontFamily={SANS} fontSize={25}>
          (pptv)
        </text>
      </g>

      {/* ---------- front card ---------- */}
      <rect x={8} y={444} width={960} height={681} fill="#fff" filter="url(#cardShadow)" />

      <g>
        <text x={448} y={472} fontFamily={SANS} fontSize={26} fill="#000">
          CHCl
          <tspan dy={10} fontSize={15}>
            3
          </tspan>
        </text>
        <text x={593} y={473} fontFamily={SANS} fontSize={29} fill="#000">
          TORERO
        </text>

        {/* data */}
        {airSeries.map((p, i) => (
          <circle key={"a" + i} cx={xT(dayToDate(p[0]))} cy={yAir(p[1])} r={2.3} fill={AIR_RED} />
        ))}
        {waterSeries.map((p, i) => (
          <circle key={"w" + i} cx={xT(dayToDate(p[0]))} cy={yWater(p[1])} r={2.1} fill={WATER_BLUE} />
        ))}

        {/* frame and axes */}
        <g stroke="#000" strokeWidth={2} fill="none">
          <line x1={xT(t0)} y1={yAir(15)} x2={xT(t1)} y2={yAir(15)} />
          <line x1={xT(t0)} y1={yAir(15)} x2={xT(t0)} y2={yAir(0) + 12} />
          <line x1={xT(t1)} y1={yAir(15)} x2={xT(t1)} y2={yAir(0) + 12} />
          <line x1={xT(t0) - 12} y1={yAir(0)} x2={xT(t1) + 12} y2={yAir(0)} />
          {airTicks.map((t) => (
            <line key={"at" + t} x1={xT(t0) - 12} x2={xT(t0)} y1={yAir(t)} y2={yAir(t)} />
          ))}
          {waterTicks.map((t) => (
            <line key={"wt" + t} x1={xT(t1)} x2={xT(t1) + 12} y1={yWater(t)} y2={yWater(t)} />
          ))}
          {dateTicks.map((s) => {
            const x = xT(parse(s) as Date);
            return <line key={"dt" + s} x1={x} x2={x} y1={yAir(0)} y2={yAir(0) + 12} />;
          })}
        </g>
        <g fontFamily={SANS} fontSize={20} fill={AIR_RED}>
          {airTicks.map((t) => (
            <text key={"al" + t} x={xT(t0) - 20} y={yAir(t)} dy="0.35em" textAnchor="end">
              {fmtAir(t)}
            </text>
          ))}
        </g>
        <g fontFamily={SANS} fontSize={20} fill={WATER_TEXT}>
          {waterTicks.map((t) => (
            <text key={"wl" + t} x={xT(t1) + 19} y={yWater(t)} dy="0.35em" textAnchor="start">
              {t}
            </text>
          ))}
        </g>
        <g fontFamily={SANS} fontSize={22} fill="#000">
          {dateTicks.map((s) => (
            <text
              key={"dl" + s}
              x={xT(parse(s) as Date) - 45}
              y={1111}
              textLength={90}
              lengthAdjust="spacingAndGlyphs"
            >
              {fmtDate(parse(s) as Date)}
            </text>
          ))}
        </g>
        <text
          transform="translate(36,801) rotate(-90)"
          textAnchor="middle"
          fill={AIR_RED}
          fontFamily={SANS}
          fontSize={26}
        >
          Air (pptv)
        </text>
        <text
          transform="translate(925,789) rotate(-90)"
          textAnchor="middle"
          fill={WATER_TEXT}
          fontFamily={SANS}
          fontSize={24}
        >
          Water (pmol dm
          <tspan dy={-9} fontSize={15}>
            -3
          </tspan>
          <tspan dy={9}>)</tspan>
        </text>
      </g>
    </svg>
  );
}
